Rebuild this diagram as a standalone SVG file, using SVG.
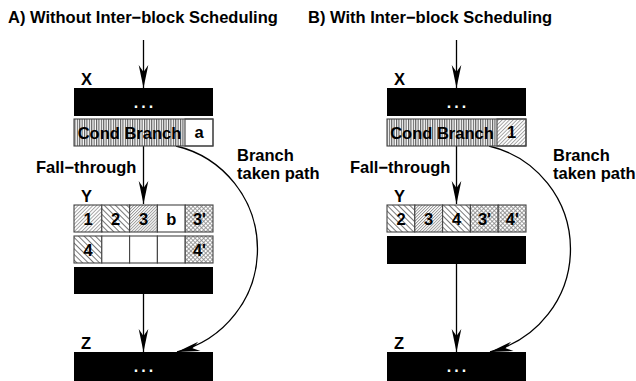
<svg xmlns="http://www.w3.org/2000/svg" width="636" height="381" viewBox="0 0 636 381">
<style>
text{font-family:"Liberation Sans",Arial,sans-serif;font-weight:bold;fill:#000}
.t{font-size:16.5px}
.c{font-size:16.5px;text-anchor:middle}
.dots{font-size:16px;text-anchor:middle;fill:#fff;letter-spacing:3px}
.bar{fill:#000}
.cell{stroke:#444;stroke-width:1.1}
.con{fill:none;stroke:#000;stroke-width:1.3}
</style>
<defs>
<pattern id="vs" patternUnits="userSpaceOnUse" width="2.4" height="10">
<rect width="2.4" height="10" fill="#fff"/>
<line x1="0.6" y1="0" x2="0.6" y2="10" stroke="#333" stroke-width="0.9"/>
</pattern>
<pattern id="p1" patternUnits="userSpaceOnUse" width="2.6" height="10" patternTransform="rotate(45)">
<rect width="2.6" height="10" fill="#fff"/>
<line x1="0.5" y1="0" x2="0.5" y2="10" stroke="#888" stroke-width="0.8"/>
</pattern>
<pattern id="p3" patternUnits="userSpaceOnUse" width="2.1" height="10" patternTransform="rotate(45)">
<rect width="2.1" height="10" fill="#fff"/>
<line x1="0.5" y1="0" x2="0.5" y2="10" stroke="#888" stroke-width="0.8"/>
</pattern>
<pattern id="p2" patternUnits="userSpaceOnUse" width="4" height="10" patternTransform="rotate(-45)">
<rect width="4" height="10" fill="#fff"/>
<line x1="0.5" y1="0" x2="0.5" y2="10" stroke="#555" stroke-width="0.8"/>
</pattern>
<pattern id="px" patternUnits="userSpaceOnUse" width="3" height="3" patternTransform="rotate(45)">
<rect width="3" height="3" fill="#fff"/>
<line x1="0.5" y1="0" x2="0.5" y2="3" stroke="#888" stroke-width="0.8"/>
<line x1="0" y1="0.5" x2="3" y2="0.5" stroke="#888" stroke-width="0.8"/>
</pattern>
<marker id="ah" markerUnits="userSpaceOnUse" markerWidth="26" markerHeight="12" viewBox="-24 -6 26 12" refX="0" refY="0" orient="auto">
<path d="M0,0 L-23,-4.8 L-16,0 L-23,4.8 Z" fill="#000"/>
</marker>
</defs>

<text class="t" x="8" y="23">A) Without Inter−block Scheduling</text>
<text class="t" x="308" y="23">B) With Inter−block Scheduling</text>

<g id="connectors">
<line class="con" x1="143.5" y1="40" x2="143.5" y2="88" marker-end="url(#ah)"/>
<line class="con" x1="143.5" y1="146" x2="143.5" y2="204" marker-end="url(#ah)"/>
<line class="con" x1="143.5" y1="294" x2="143.5" y2="352" marker-end="url(#ah)"/>
<path class="con" d="M176,146 A106,106 0 0 1 177,352" marker-end="url(#ah)"/>
<line class="con" x1="456.5" y1="40" x2="456.5" y2="88" marker-end="url(#ah)"/>
<line class="con" x1="456.5" y1="146" x2="456.5" y2="204" marker-end="url(#ah)"/>
<line class="con" x1="456.5" y1="264" x2="456.5" y2="352" marker-end="url(#ah)"/>
<path class="con" d="M489,146 A106,106 0 0 1 490,352" marker-end="url(#ah)"/>
</g>
<g id="labels">
<text class="t" x="36" y="173">Fall−through</text>
<text class="t" x="237" y="161">Branch</text>
<text class="t" x="237" y="179">taken path</text>
<text class="t" x="350" y="173">Fall−through</text>
<text class="t" x="553" y="161">Branch</text>
<text class="t" x="553" y="179">taken path</text>
</g>

<!-- Panel A -->
<g id="A_X">
<text class="t" x="81" y="85">X</text>
<rect class="bar" x="74" y="88" width="139" height="28"/>
<text class="dots" x="145" y="108">...</text>
<rect x="74" y="119" width="111" height="27" fill="url(#vs)"/>
<rect class="cell" x="185" y="119" width="28" height="27" fill="#fff"/>
<rect x="74" y="119" width="139" height="27" fill="none" stroke="#444" stroke-width="1.1"/>
<text class="c" x="129.5" y="138.5">Cond Branch</text>
<text class="c" x="199" y="138">a</text>
</g>
<g id="A_Y">
<text class="t" x="81" y="202">Y</text>
<rect class="cell" x="74" y="205" width="27.8" height="27" fill="url(#p1)"/>
<rect class="cell" x="101.8" y="205" width="27.8" height="27" fill="url(#p2)"/>
<rect class="cell" x="129.6" y="205" width="27.8" height="27" fill="url(#p3)"/>
<rect class="cell" x="157.4" y="205" width="27.8" height="27" fill="#fff"/>
<rect class="cell" x="185.2" y="205" width="27.8" height="27" fill="url(#px)"/>
<text class="c" x="88" y="224.5">1</text>
<text class="c" x="115.7" y="224.5">2</text>
<text class="c" x="143.5" y="224.5">3</text>
<text class="c" x="171.3" y="224.5">b</text>
<text class="c" x="199.5" y="224.5">3'</text>
<rect class="cell" x="74" y="236" width="27.8" height="27" fill="url(#p2)"/>
<rect class="cell" x="101.8" y="236" width="27.8" height="27" fill="#fff"/>
<rect class="cell" x="129.6" y="236" width="27.8" height="27" fill="#fff"/>
<rect class="cell" x="157.4" y="236" width="27.8" height="27" fill="#fff"/>
<rect class="cell" x="185.2" y="236" width="27.8" height="27" fill="url(#px)"/>
<text class="c" x="88" y="255.5">4</text>
<text class="c" x="199.5" y="255.5">4'</text>
<rect class="bar" x="74" y="267" width="139" height="27"/>
</g>
<g id="A_Z">
<text class="t" x="81" y="349">Z</text>
<rect class="bar" x="74" y="352" width="139" height="29"/>
<text class="dots" x="145" y="372">...</text>
</g>

<!-- Panel B -->
<g id="B_X">
<text class="t" x="394" y="85">X</text>
<rect class="bar" x="387" y="88" width="139" height="28"/>
<text class="dots" x="458" y="108">...</text>
<rect x="387" y="119" width="110" height="27" fill="url(#vs)"/>
<rect class="cell" x="497" y="119" width="29" height="27" fill="url(#p1)"/>
<rect x="387" y="119" width="139" height="27" fill="none" stroke="#444" stroke-width="1.1"/>
<text class="c" x="442" y="138.5">Cond Branch</text>
<text class="c" x="511.5" y="138">1</text>
</g>
<g id="B_Y">
<text class="t" x="394" y="202">Y</text>
<rect class="cell" x="387" y="205" width="27.8" height="27" fill="url(#p2)"/>
<rect class="cell" x="414.8" y="205" width="27.8" height="27" fill="url(#p3)"/>
<rect class="cell" x="442.6" y="205" width="27.8" height="27" fill="url(#p2)"/>
<rect class="cell" x="470.4" y="205" width="27.8" height="27" fill="url(#px)"/>
<rect class="cell" x="498.2" y="205" width="27.8" height="27" fill="url(#px)"/>
<text class="c" x="401" y="224.5">2</text>
<text class="c" x="428.7" y="224.5">3</text>
<text class="c" x="456.5" y="224.5">4</text>
<text class="c" x="484.5" y="224.5">3'</text>
<text class="c" x="512.3" y="224.5">4'</text>
<rect class="bar" x="387" y="236" width="139" height="28"/>
</g>
<g id="B_Z">
<text class="t" x="394" y="349">Z</text>
<rect class="bar" x="387" y="352" width="139" height="29"/>
<text class="dots" x="458" y="372">...</text>
</g>
</svg>
